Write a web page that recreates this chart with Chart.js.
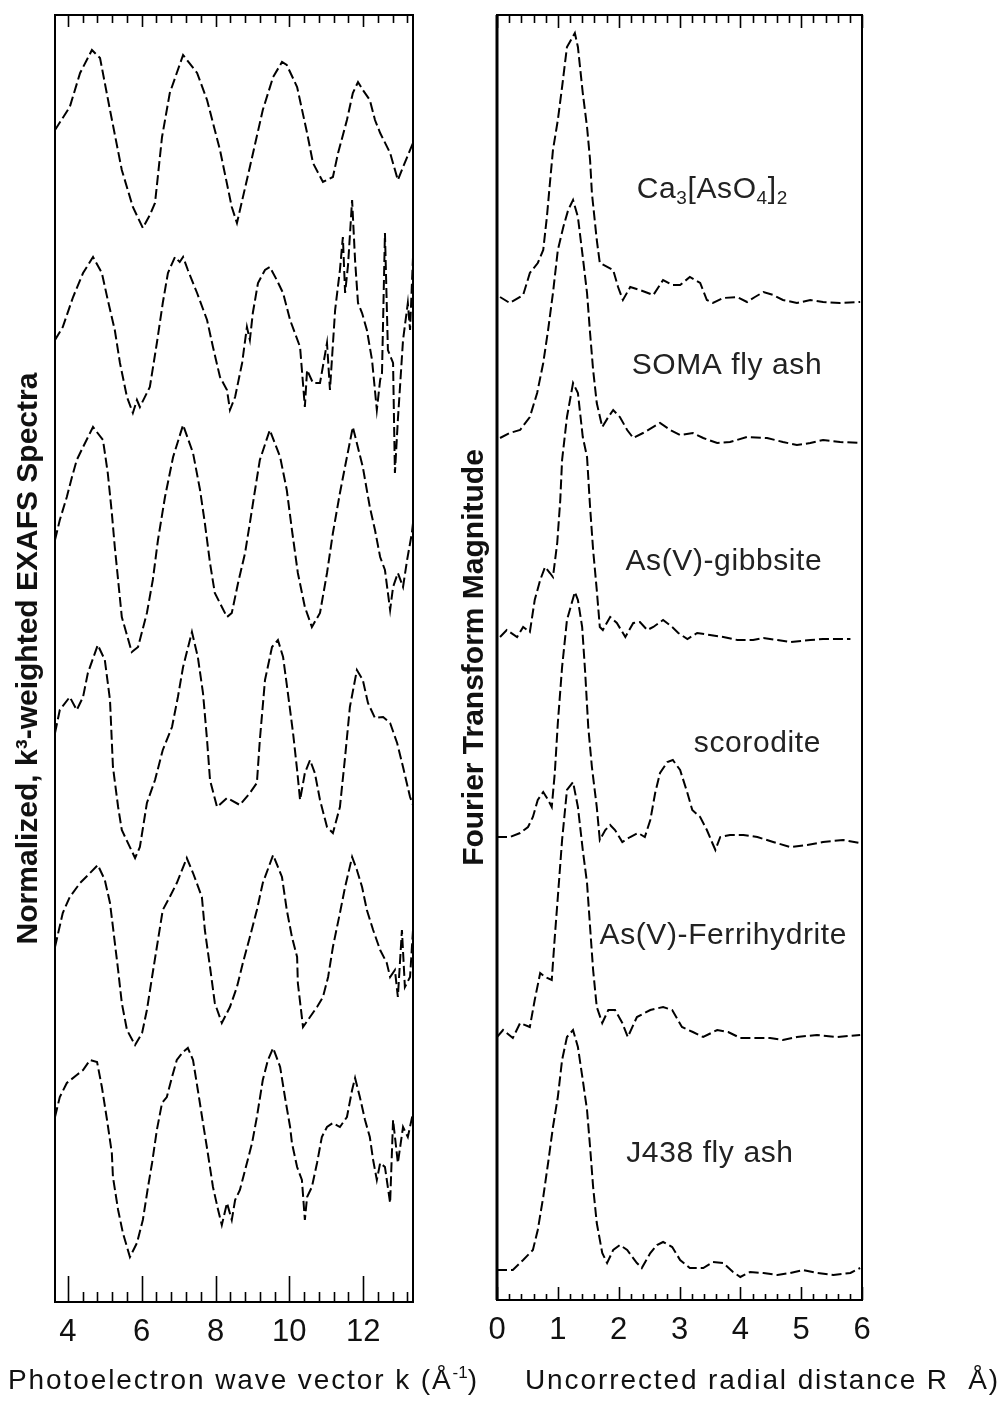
<!DOCTYPE html>
<html>
<head>
<meta charset="utf-8">
<title>EXAFS spectra and Fourier transforms</title>
<script src="https://cdn.jsdelivr.net/npm/chart.js@4.4.1/dist/chart.umd.min.js"></script>
<style>
  body { margin: 0; background: #fff; width: 1008px; height: 1406px; position: relative; overflow: hidden;
         font-family: "Liberation Sans", Arial, sans-serif; }
  canvas { position: absolute; top: 0; }
  #kChart { left: 0; }
  #rChart { left: 440px; }
  .xtitle { position: absolute; top: 1364px; font-size: 28px; color: #111; white-space: pre; letter-spacing: 1.9px; }
  .xtitle sup { font-size: 17px; vertical-align: 11px; line-height: 0; letter-spacing: 0; }
</style>
</head>
<body>
<canvas id="kChart" width="440" height="1406"></canvas>
<canvas id="rChart" width="568" height="1406"></canvas>
<div class="xtitle" style="left:8px">Photoelectron wave vector k (Å<sup>-1</sup>)</div>
<div class="xtitle" style="left:525px">Uncorrected radial distance R  Å)</div>

<script>
// sample names, top to bottom
const sampleNames = ["Ca3[AsO4]2", "SOMA fly ash", "As(V)-gibbsite", "scorodite", "As(V)-Ferrihydrite", "J438 fly ash"];
// same names as printed in the right panel (_ marks a subscript character)
const labelText = ["Ca_3[AsO_4]_2", "SOMA fly ash", "As(V)-gibbsite", "scorodite", "As(V)-Ferrihydrite", "J438 fly ash"];

// ---- k3-weighted EXAFS (left panel), k in 1/Angstrom ----
const kOffsets = [116.2, 96.7, 76.2, 55.7, 35.2, 15.2];

const kCa = [3.65,4.05,4.33,4.65,4.87,5.14,5.46,5.76,6.03,6.22,6.36,6.55,6.76,7.12,7.50,7.77,8.12,8.44,8.58,8.93,9.28,9.56,9.80,9.93,10.21,10.48,10.64,10.91,11.18,11.32,11.56,11.72,11.86,11.99,12.18,12.32,12.46,12.73,12.94,13.08,13.35];
const chiCa = [1.0,3.3,6.7,9.0,8.2,3.0,-3.0,-6.7,-8.8,-7.5,-6.3,0.3,4.7,8.5,6.7,4.0,-1.0,-6.7,-8.3,-2.7,3.0,6.3,7.8,7.5,5.3,0.7,-2.3,-4.2,-3.7,-1.3,2.0,4.7,5.8,5.0,4.0,2.0,0.7,-1.3,-4.0,-2.7,-0.3];

const kSoma = [3.65,3.86,4.14,4.41,4.68,4.92,5.08,5.27,5.41,5.60,5.76,5.87,5.95,6.22,6.41,6.57,6.71,6.90,7.03,7.12,7.25,7.50,7.77,7.93,8.12,8.31,8.39,8.53,8.72,8.85,8.93,9.01,9.15,9.34,9.47,9.66,9.83,10.02,10.15,10.29,10.42,10.48,10.64,10.83,11.02,11.10,11.24,11.37,11.45,11.51,11.59,11.70,11.78,11.86,11.97,12.10,12.24,12.37,12.46,12.51,12.59,12.67,12.81,12.86,12.94,13.08,13.21,13.27,13.35];
const chiSoma = [-0.5,0.8,3.8,6.2,7.8,6.2,3.5,0.5,-2.8,-6.2,-7.8,-6.5,-7.2,-5.2,-0.8,3.2,6.2,7.8,7.3,7.8,6.5,4.2,1.5,-1.2,-4.2,-5.5,-7.5,-6.2,-2.8,0.8,-0.5,2.2,5.2,6.5,6.8,5.5,4.2,1.5,0.2,-1.2,-7.2,-3.5,-4.8,-4.8,-0.8,-5.5,2.5,6.5,9.8,4.2,7.0,13.5,7.5,3.2,2.2,0.5,-2.5,-7.5,-4.5,-3.8,10.2,-1.5,-2.8,-13.8,-8.5,-0.5,3.2,0.5,7.8];

const kGib = [3.65,3.78,3.97,4.11,4.24,4.41,4.68,4.95,5.08,5.19,5.27,5.36,5.46,5.73,5.90,6.14,6.30,6.44,6.63,6.85,7.12,7.39,7.58,7.71,7.85,7.98,8.31,8.44,8.61,8.80,8.93,9.07,9.20,9.47,9.75,9.93,10.07,10.23,10.42,10.61,10.83,11.02,11.18,11.37,11.56,11.72,11.99,12.18,12.32,12.46,12.59,12.73,12.81,12.94,13.08,13.19,13.32,13.35];
const chiGib = [0,2.0,4.3,6.3,8.0,9.3,11.3,10.0,6.7,2.7,-0.7,-4.0,-7.7,-11.2,-10.7,-7.3,-4.0,0,4.3,8.3,11.5,8.7,5.0,1.7,-2.3,-5.3,-7.7,-7.3,-4.3,-1.3,1.7,5.0,8.0,11.0,8.3,5.0,1.0,-3.3,-6.7,-8.7,-7.3,-3.3,0.7,4.7,8.3,11.3,7.3,3.3,1.0,-1.7,-3.0,-7.0,-4.7,-3.3,-4.7,-2.0,0.7,1.7];

const kSco = [3.65,3.78,4.05,4.24,4.41,4.54,4.81,5.00,5.14,5.22,5.36,5.46,5.82,5.95,6.14,6.36,6.57,6.82,6.98,7.12,7.36,7.52,7.66,7.77,7.85,8.04,8.31,8.66,8.93,9.12,9.20,9.34,9.53,9.69,9.83,9.96,10.10,10.21,10.29,10.42,10.56,10.69,10.83,11.02,11.18,11.37,11.51,11.64,11.83,11.99,12.13,12.32,12.54,12.73,12.92,13.08,13.27,13.35];
const chiSco = [1.2,3.5,4.8,3.5,4.8,7.2,10.0,8.5,4.5,-2.2,-6.2,-8.5,-11.3,-10.2,-5.8,-3.5,-0.5,1.8,4.8,7.8,11.3,8.8,5.2,0.5,-3.5,-6.2,-5.3,-6.0,-4.8,-3.8,0.5,6.5,9.8,10.5,8.8,5.2,1.2,-2.5,-5.5,-2.8,-1.5,-2.8,-5.5,-8.2,-8.8,-6.2,-1.2,3.8,7.5,6.5,4.2,2.7,2.8,2.2,0.2,-2.2,-5.2,-6.0];

const kFh = [3.65,3.86,4.05,4.33,4.60,4.81,5.00,5.14,5.22,5.36,5.46,5.60,5.82,6.01,6.14,6.28,6.41,6.57,6.76,6.95,7.22,7.39,7.63,7.71,7.85,7.98,8.17,8.39,8.58,8.74,8.93,9.12,9.28,9.56,9.80,9.93,10.07,10.21,10.23,10.37,10.56,10.75,10.91,11.05,11.18,11.37,11.51,11.70,11.83,11.97,12.10,12.27,12.46,12.64,12.73,12.86,12.94,13.05,13.13,13.27,13.35];
const chiFh = [0.3,3.7,5.3,6.7,7.7,8.5,7.0,4.7,2.3,-2.0,-5.3,-8.0,-9.5,-8.3,-6.0,-2.7,0.3,4.0,5.3,6.7,9.2,7.7,5.3,2.0,-1.7,-5.3,-7.3,-5.7,-3.7,-1.3,1.3,4.0,6.7,9.5,7.3,4.0,1.3,-0.7,-3.3,-7.7,-6.7,-5.7,-4.7,-2.7,0.3,3.7,6.3,9.3,8.0,6.3,4.0,2.0,0,-1.3,-2.7,-2.0,-4.7,2.0,-3.7,-2.7,2.0];

const kJ = [3.65,3.78,3.97,4.24,4.41,4.60,4.79,4.92,5.06,5.19,5.22,5.36,5.49,5.68,5.87,6.03,6.17,6.28,6.41,6.55,6.68,6.82,6.95,7.12,7.25,7.39,7.52,7.66,7.79,7.93,8.07,8.17,8.31,8.44,8.53,8.66,8.85,8.99,9.12,9.28,9.42,9.56,9.75,9.88,10.02,10.07,10.21,10.34,10.42,10.48,10.61,10.75,10.88,11.02,11.18,11.37,11.56,11.70,11.78,11.91,12.05,12.18,12.27,12.37,12.46,12.59,12.73,12.81,12.94,13.08,13.21,13.35];
const chiJ = [3.3,5.3,6.7,7.5,8.0,9.0,8.8,6.3,3.0,-0.3,-2.7,-6.0,-8.3,-10.7,-9.3,-7.0,-3.7,-1.3,2.0,4.7,5.3,7.3,9.0,9.8,10.2,9.0,6.0,2.7,-0.3,-3.7,-6.0,-7.5,-5.3,-7.0,-5.0,-4.0,-1.3,0.7,3.3,7.0,9.0,10.2,8.3,5.3,2.3,0.7,-1.7,-3.0,-7.0,-4.7,-3.7,-1.3,1.3,2.3,2.7,2.3,3.3,6.0,7.2,5.3,3.0,1.3,-1.0,-3.0,-1.3,-1.7,-5.3,3.0,-1.3,2.3,1.3,3.7];

// ---- Fourier transform magnitude (right panel), R in Angstrom ----
const ftOffsets = [99.7, 85.7, 66.0, 45.5, 26.2, 2.5];

const rCa = [0.05,0.21,0.43,0.54,0.67,0.76,0.82,0.87,0.92,1.00,1.07,1.15,1.28,1.33,1.41,1.48,1.53,1.56,1.64,1.69,1.91,1.99,2.07,2.19,2.35,2.57,2.73,2.88,3.01,3.17,3.34,3.45,3.55,3.72,3.95,4.11,4.24,4.38,4.54,4.70,4.93,5.15,5.36,5.64,5.97];
const ftCa = [0.6,0,0.8,3.0,4.0,5.3,8.6,12.0,15.3,18.3,21.6,25.6,27.0,25.6,21.0,17.6,14.3,11.0,6.3,4.0,3.3,1.6,0.3,1.6,1.3,0.8,2.3,1.8,1.8,2.6,2.0,0.3,0,0.5,0.6,0.1,0.6,1.1,0.8,0.3,0,0.3,0.1,0,0.1];

const rSoma = [0.05,0.21,0.38,0.54,0.66,0.76,0.84,0.92,1.00,1.09,1.17,1.25,1.33,1.41,1.48,1.53,1.58,1.64,1.73,1.83,1.91,2.02,2.14,2.24,2.40,2.68,2.85,3.01,3.22,3.39,3.62,3.83,4.11,4.44,4.70,4.93,5.15,5.36,5.64,5.97];
const ftSoma = [0.5,1.0,1.3,2.6,5.0,8.0,11.3,15.0,19.3,21.6,23.3,24.3,22.6,18.6,15.0,11.0,7.3,4.0,1.6,2.6,3.3,2.6,1.3,0.5,1.0,2.0,1.3,0.8,1.0,0.5,0,0.1,0.6,0.5,0.1,-0.2,0,0.3,0.1,0];

const rGib = [0.05,0.16,0.33,0.43,0.54,0.62,0.71,0.79,0.87,0.92,0.99,1.04,1.07,1.15,1.25,1.33,1.41,1.48,1.53,1.58,1.64,1.69,1.74,1.86,1.97,2.11,2.24,2.35,2.47,2.57,2.73,2.88,2.98,3.13,3.29,3.50,3.72,3.95,4.21,4.38,4.61,4.82,5.15,5.36,5.81];
const ftGib = [0.3,1.0,0.3,1.3,0.8,4.0,6.0,7.3,6.7,6.3,9.7,14.0,18.0,22.3,25.7,24.7,20.3,18.3,13.3,9.0,5.0,1.3,1.0,2.3,1.7,0.3,1.7,1.8,1.0,1.3,2.0,1.3,0.7,0.1,0.7,0.5,0.3,0,0,0.2,0,-0.2,0,0.1,0.1];

const rSco = [0,0.21,0.38,0.51,0.59,0.67,0.76,0.84,0.90,0.95,1.00,1.07,1.15,1.28,1.33,1.40,1.45,1.50,1.56,1.64,1.69,1.78,1.86,1.94,2.06,2.19,2.32,2.43,2.52,2.60,2.68,2.80,2.89,3.01,3.13,3.21,3.34,3.45,3.54,3.59,3.67,3.83,4.05,4.28,4.54,4.82,5.10,5.36,5.69,5.97];
const ftSco = [0.8,0.8,1.2,1.8,2.8,4.5,5.3,4.5,3.8,7.2,12.2,17.8,22.5,25.3,24.5,21.8,17.2,11.8,7.8,3.8,0.5,1.5,2.0,1.5,0.3,0.8,1.2,0.8,2.5,5.2,7.2,8.3,8.5,7.5,5.2,3.5,2.8,1.5,0.2,-0.5,0.8,1.0,1.0,0.8,0.3,-0.2,0,0.3,0.5,0.2];

const rFh = [0,0.10,0.26,0.38,0.54,0.62,0.71,0.79,0.90,0.95,1.00,1.07,1.15,1.25,1.33,1.41,1.48,1.53,1.58,1.64,1.73,1.83,1.94,2.06,2.15,2.30,2.52,2.73,2.88,3.04,3.22,3.39,3.62,3.80,4.00,4.28,4.49,4.70,4.93,5.26,5.59,5.97];
const ftFh = [0.1,0.8,0,1.5,1.1,3.8,6.5,6.1,5.8,10.1,14.1,19.8,24.8,25.6,23.1,18.8,15.5,11.1,6.8,3.1,1.5,2.8,2.8,1.5,0.1,2.1,2.8,3.1,2.8,1.1,0.6,0.1,0.8,0.6,0,0,0,-0.2,0.1,0.3,0.1,0.3];

const rJ = [0,0.26,0.43,0.59,0.67,0.76,0.84,0.92,1.00,1.07,1.15,1.25,1.33,1.41,1.48,1.53,1.58,1.64,1.73,1.81,1.91,2.02,2.14,2.30,2.38,2.52,2.63,2.73,2.88,3.01,3.17,3.39,3.55,3.72,3.88,4.00,4.16,4.38,4.61,4.82,5.03,5.26,5.53,5.81,5.97];
const ftJ = [0.5,0.5,1.5,2.5,4.5,7.8,11.2,14.8,17.8,21.5,23.8,24.5,22.8,19.5,16.5,12.8,8.8,5.2,2.2,1.2,2.5,3.0,2.5,1.2,0.7,2.2,3.0,3.3,2.8,1.5,0.7,0.7,1.3,1.2,0.3,-0.2,0.3,0.2,0,0.2,0.5,0.2,0,0.2,0.7];

const kTicks = [4, 6, 8, 10, 12];
const rTicks = [0, 1, 2, 3, 4, 5, 6];

// where the sample names sit in the right panel, in (R, magnitude) units
const labelAt = [[3.54, 111.0], [3.78, 93.4], [3.73, 73.8], [4.28, 55.6], [3.72, 36.4], [3.50, 14.6]];

const FONT = '"Liberation Sans", Arial, sans-serif';

function buildSets(xs, ys, offsets) {
  return xs.map((xArr, i) => ({
    label: sampleNames[i],
    data: xArr.map((x, j) => ({ x: x, y: offsets[i] + ys[i][j] })),
    borderColor: '#000',
    borderWidth: 2,
    borderDash: [10, 4],
    pointRadius: 0,
    tension: 0,
    fill: false
  }));
}

// box round the plot plus the inward tick marks on top and bottom
const frameTicks = {
  id: 'frameTicks',
  afterDatasetsDraw(chart, args, o) {
    const { ctx, chartArea: a } = chart;
    const xs = chart.scales.x;
    ctx.save();
    ctx.strokeStyle = '#000';
    ctx.lineWidth = 2;
    ctx.strokeRect(a.left, a.top, a.right - a.left, a.bottom - a.top);
    if (o.leftWidth) {
      ctx.lineWidth = o.leftWidth;
      ctx.beginPath();
      ctx.moveTo(a.left, a.top);
      ctx.lineTo(a.left, a.bottom);
      ctx.stroke();
    }
    ctx.lineWidth = 1.6;
    const first = o.ticks[0];
    let n0 = 0;
    while (first - (n0 + 1) * o.minor >= xs.min - 1e-6) n0++;
    const per = Math.round(o.major / o.minor);
    for (let i = -n0; ; i++) {
      const v = first + i * o.minor;
      if (v > xs.max + 1e-6) break;
      const major = ((i % per) + per) % per === 0;
      const px = Math.round(xs.getPixelForValue(v)) + 0.5;
      ctx.beginPath();
      ctx.moveTo(px, a.bottom);
      ctx.lineTo(px, a.bottom - (major ? o.bottomMajor : o.bottomMinor));
      ctx.moveTo(px, a.top);
      ctx.lineTo(px, a.top + (major ? o.topMajor : o.topMinor));
      ctx.stroke();
    }
    ctx.restore();
  }
};

// sample names next to the FT curves
const sampleLabels = {
  id: 'sampleLabels',
  afterDatasetsDraw(chart, args, o) {
    if (!o.items) return;
    const { ctx, scales: { x, y } } = chart;
    const big = o.size + 'px ' + FONT;
    const small = Math.round(o.size * 0.62) + 'px ' + FONT;
    ctx.save();
    ctx.fillStyle = '#222';
    ctx.textBaseline = 'middle';
    o.items.forEach((it) => {
      const parts = [];
      for (let i = 0; i < it.text.length; i++) {
        if (it.text[i] === '_') { parts.push({ t: it.text[i + 1], sub: true }); i++; }
        else parts.push({ t: it.text[i], sub: false });
      }
      const adv = (p) => { ctx.font = p.sub ? small : big; return ctx.measureText(p.t).width + o.spacing; };
      let w = 0;
      parts.forEach((p) => { w += adv(p); });
      let cx = x.getPixelForValue(it.at[0]) - w / 2;
      const cy = y.getPixelForValue(it.at[1]);
      parts.forEach((p) => {
        const step = adv(p);
        ctx.fillText(p.t, cx, cy + (p.sub ? o.size * 0.3 : 0));
        cx += step;
      });
    });
    ctx.restore();
  }
};

function makeChart(id, cfg) {
  return new Chart(document.getElementById(id), {
    type: 'line',
    data: { datasets: cfg.datasets },
    plugins: [frameTicks, sampleLabels],
    options: {
      responsive: false,
      animation: false,
      events: [],
      layout: { padding: { top: 15, right: cfg.padRight, left: 0, bottom: 0 } },
      plugins: {
        legend: { display: false },
        tooltip: { enabled: false },
        frameTicks: cfg.frame,
        sampleLabels: cfg.labels || {}
      },
      scales: {
        x: {
          type: 'linear',
          min: cfg.xMin,
          max: cfg.xMax,
          grid: { display: false, drawTicks: false },
          border: { display: false },
          afterBuildTicks: (s) => { s.ticks = cfg.ticks.map((v) => ({ value: v })); },
          ticks: { padding: 12, color: '#111', font: { family: FONT, size: 31 }, maxRotation: 0 },
          afterFit: (s) => { s.height = cfg.xHeight; }
        },
        y: {
          type: 'linear',
          min: 0,
          max: cfg.yMax,
          grid: { display: false, drawTicks: false },
          border: { display: false },
          ticks: { display: false },
          title: {
            display: true,
            text: cfg.yTitle,
            color: '#111',
            font: { family: FONT, size: 30, weight: 'bold' },
            padding: { top: cfg.titlePad, bottom: 0 }
          },
          afterFit: (s) => { s.width = cfg.yWidth; }
        }
      }
    }
  });
}

makeChart('kChart', {
  datasets: buildSets([kCa, kSoma, kGib, kSco, kFh, kJ], [chiCa, chiSoma, chiGib, chiSco, chiFh, chiJ], kOffsets),
  xMin: 3.65, xMax: 13.35, ticks: kTicks, yMax: 128.7,
  padRight: 27, xHeight: 104, yWidth: 55, titlePad: 11,
  yTitle: 'Normalized, k³-weighted EXAFS Spectra',
  frame: { ticks: kTicks, major: 2, minor: 0.4, bottomMajor: 26, bottomMinor: 10, topMajor: 12, topMinor: 8 }
});

makeChart('rChart', {
  datasets: buildSets([rCa, rSoma, rGib, rSco, rFh, rJ], [ftCa, ftSoma, ftGib, ftSco, ftFh, ftJ], ftOffsets),
  xMin: 0, xMax: 6, ticks: rTicks, yMax: 128.5,
  padRight: 146, xHeight: 106, yWidth: 57, titlePad: 17,
  yTitle: 'Fourier Transform Magnitude',
  frame: { ticks: rTicks, major: 1, minor: 0.2, bottomMajor: 13, bottomMinor: 6, topMajor: 13, topMinor: 8, leftWidth: 3 },
  labels: { size: 30, spacing: 0.6, items: labelText.map((t, i) => ({ text: t, at: labelAt[i] })) }
});
</script>
</body>
</html>
